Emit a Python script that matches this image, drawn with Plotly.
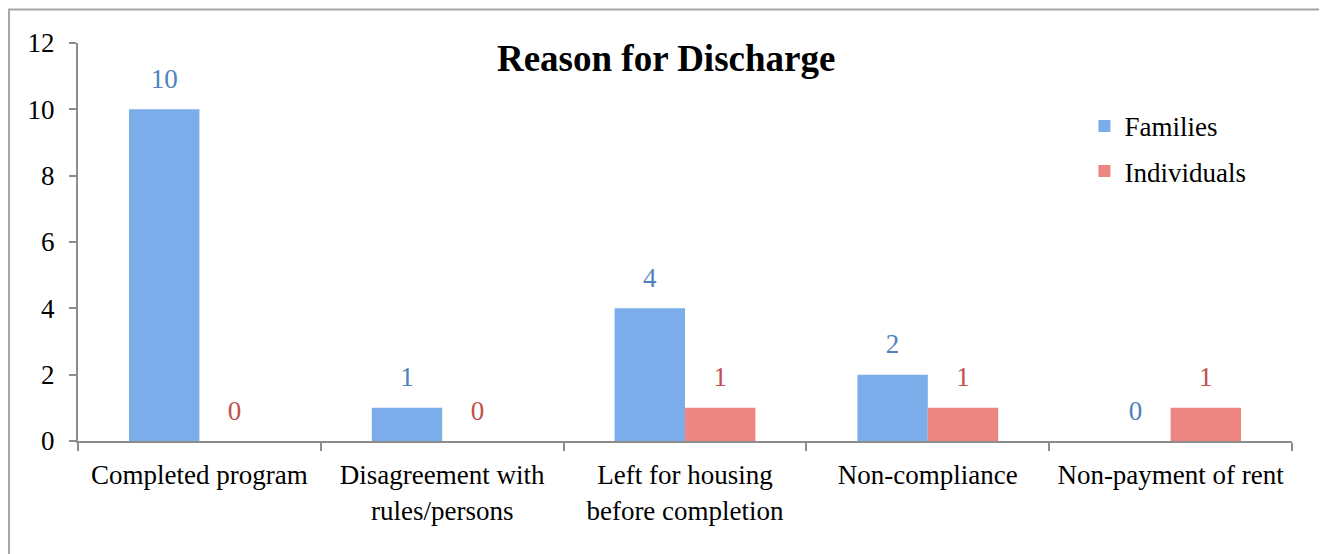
import plotly.graph_objects as go

# ── Data ───────────────────────────────────────────────────────────────────────
categories = [
    "Completed program",
    "Disagreement with<br>rules/persons",
    "Left for housing<br>before completion",
    "Non-compliance",
    "Non-payment of rent",
]
families = [10, 1, 4, 2, 0]
individuals = [0, 0, 1, 1, 1]

FONT = "Liberation Serif, Times New Roman, serif"
AXIS_GREY = "#8c8c8c"
BLUE_BAR, RED_BAR = "#7cadeb", "#ed8581"
BLUE_TXT, RED_TXT = "#4f81bd", "#c0504d"

fig = go.Figure()

for name, vals, bar_col in [
    ("Families", families, BLUE_BAR),
    ("Individuals", individuals, RED_BAR),
]:
    fig.add_trace(go.Bar(
        x=categories, y=vals, name=name, legendgroup=name,
        marker=dict(color=bar_col, line=dict(width=0)),
    ))

# value labels: invisible markers so the text sits a little higher above bars
for vals, txt_col in [(families, BLUE_TXT), (individuals, RED_TXT)]:
    fig.add_trace(go.Scatter(
        x=categories, y=vals, mode="markers+text", text=[str(v) for v in vals],
        textposition="top center", showlegend=False, hoverinfo="skip",
        marker=dict(size=22, opacity=0), cliponaxis=False,
        textfont=dict(family=FONT, size=27, color=txt_col),
    ))

# outer chart frame
fig.add_shape(type="rect", xref="paper", yref="paper",
              x0=-0.0568, x1=1.0247, y0=-0.4, y1=1.084,
              line=dict(color="#a6a6a6", width=2), layer="below")

fig.update_layout(
    width=1327, height=554,
    paper_bgcolor="white", plot_bgcolor="white",
    font=dict(family=FONT, size=27, color="black"),
    title=dict(text="<b>Reason for Discharge</b>", x=0.496, xanchor="center",
               y=0.9097, yanchor="middle", font=dict(size=37, family=FONT)),
    barmode="group", bargap=0.42, bargroupgap=0,
    scattermode="group", scattergap=0.42,
    showlegend=True,
    legend=dict(x=0.829, y=0.852, xanchor="left", yanchor="top",
                font=dict(size=27, family=FONT), tracegroupgap=7,
                itemwidth=30, bgcolor="rgba(0,0,0,0)"),
    margin=dict(l=70, r=43, t=35, b=121),
    xaxis=dict(showline=True, linecolor=AXIS_GREY, linewidth=2,
               ticks="outside", tickson="boundaries", ticklen=8,
               tickcolor=AXIS_GREY, tickwidth=2, showgrid=False,
               ticklabelstandoff=9,
               tickfont=dict(size=27, family=FONT)),
    yaxis=dict(range=[0, 12], dtick=2, showline=True, linecolor=AXIS_GREY,
               linewidth=2, ticks="outside", ticklen=7, tickcolor=AXIS_GREY,
               tickwidth=2, showgrid=False, zeroline=False,
               ticklabelstandoff=9,
               tickfont=dict(size=27, family=FONT)),
)

fig.write_html("out.html")
